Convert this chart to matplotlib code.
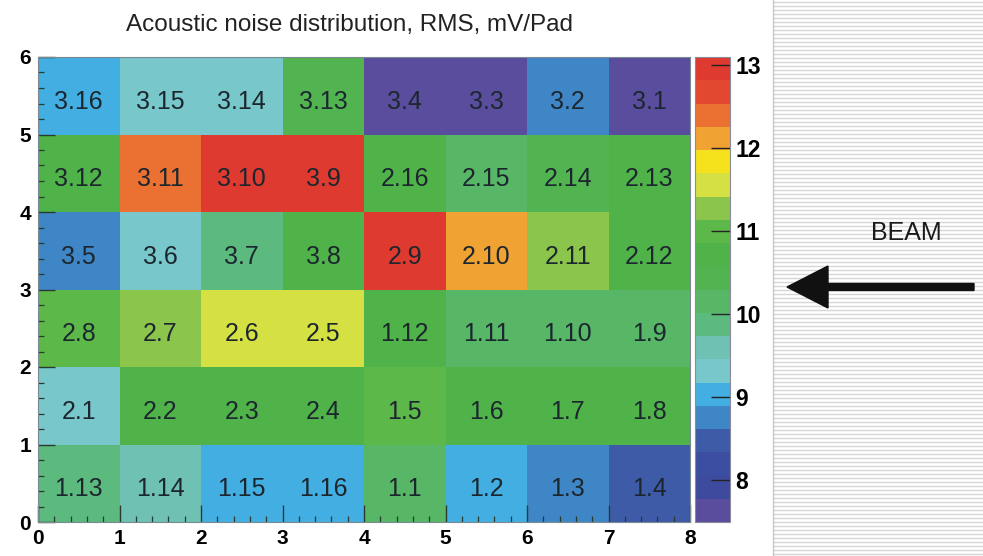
import numpy as np
import matplotlib
matplotlib.use("Agg")
import matplotlib.pyplot as plt
from matplotlib.colors import ListedColormap, BoundaryNorm
from matplotlib.patches import FancyArrow

plt.rcParams['font.family'] = ['Liberation Sans', 'DejaVu Sans']

# RMS noise per pad (mV), rows listed from top (y=5..6) to bottom (y=0..1)
noise_rms = [
    [9.00, 9.30, 9.30, 10.50, 7.60, 7.60, 8.78, 7.60],
    [10.60, 12.40, 12.95, 12.95, 10.60, 10.05, 10.50, 10.60],
    [8.78, 9.35, 9.90, 10.60, 12.95, 12.10, 11.30, 10.60],
    [10.95, 11.30, 11.58, 11.58, 10.60, 10.20, 10.20, 10.20],
    [9.30, 10.60, 10.60, 10.60, 11.00, 10.60, 10.60, 10.60],
    [9.95, 9.60, 9.02, 9.02, 10.10, 9.02, 8.76, 8.45],
]

# pad identifiers, same layout as noise_rms
pad_names = [
    ["3.16", "3.15", "3.14", "3.13", "3.4", "3.3", "3.2", "3.1"],
    ["3.12", "3.11", "3.10", "3.9", "2.16", "2.15", "2.14", "2.13"],
    ["3.5", "3.6", "3.7", "3.8", "2.9", "2.10", "2.11", "2.12"],
    ["2.8", "2.7", "2.6", "2.5", "1.12", "1.11", "1.10", "1.9"],
    ["2.1", "2.2", "2.3", "2.4", "1.5", "1.6", "1.7", "1.8"],
    ["1.13", "1.14", "1.15", "1.16", "1.1", "1.2", "1.3", "1.4"],
]

z_min, z_max, n_levels = 7.5, 13.1, 20
cbar_ticks = [8, 9, 10, 11, 12, 13]

palette = [
    '#5a4d9d', '#3e4a9e', '#3b4ea1', '#3e5ba7', '#3f86c6',
    '#43aee2', '#78c7cb', '#6ec1b3', '#5cba7e', '#58b766',
    '#52b450', '#4fb34a', '#5db84a', '#8cc54b', '#d5e043',
    '#f5e11c', '#f0a232', '#ea7131', '#e2482f', '#df3a2f',
]

W, H = 983, 556
fig = plt.figure(figsize=(W / 100, H / 100), dpi=100)
fig.patch.set_facecolor('white')

# background panel on the right with horizontal ruling, beam arrow
bg = fig.add_axes([0, 0, 1, 1], zorder=0)
bg.set_xlim(0, W)
bg.set_ylim(H, 0)
bg.axis('off')
for yy in np.arange(1.5, H, 4.0):
    bg.plot([773, W], [yy, yy], color='#d6d6d6', lw=1.0, solid_capstyle='butt')
bg.plot([773, 773], [0, H], color='#c8c8c8', lw=1.0)
bg.add_patch(FancyArrow(974, 287, -187, 0, width=7, head_width=42,
                        head_length=41, length_includes_head=True,
                        color='#111111', zorder=3))
bg.text(906, 233, "BEAM", fontsize=18, color='#1a1a1a', ha='center', va='center')

# main map
ax = fig.add_axes([38 / W, 1 - 522 / H, 652 / W, 465 / H], zorder=2)
Z = np.array(noise_rms)[::-1]
names = pad_names[::-1]
levels = np.linspace(z_min, z_max, n_levels + 1)
cmap = ListedColormap(palette)
norm = BoundaryNorm(levels, n_levels)
mesh = ax.pcolormesh(np.arange(Z.shape[1] + 1), np.arange(Z.shape[0] + 1), Z,
                     cmap=cmap, norm=norm)
for j in range(Z.shape[0]):
    for i in range(Z.shape[1]):
        ax.text(i + 0.5, j + 0.42, names[j][i], ha='center', va='center',
                fontsize=18, color='#1c262e')

ax.set_xlim(0, 8)
ax.set_ylim(0, 6)
ax.set_xticks(range(0, 9))
ax.set_yticks(range(0, 7))
ax.set_xticks(np.arange(0, 8.01, 0.2), minor=True)
ax.set_yticks(np.arange(0, 6.01, 0.2), minor=True)
ax.tick_params(which='major', direction='in', length=12, width=1.0,
               color='#2a3a30', labelsize=15, pad=5)
ax.tick_params(which='minor', direction='in', length=4.5, width=0.9,
               color='#2a3a30')
for lab in ax.get_xticklabels() + ax.get_yticklabels():
    lab.set_fontweight('bold')
for s in ax.spines.values():
    s.set_color('#7a8a90')
    s.set_linewidth(0.8)

ax.set_title("Acoustic noise distribution, RMS, mV/Pad", fontsize=17.5,
             color='#222222', pad=19, x=0.478)

# palette axis
cax = fig.add_axes([695 / W, 1 - 522 / H, 35 / W, 465 / H], zorder=2)
cb = fig.colorbar(mesh, cax=cax, ticks=cbar_ticks)
cb.outline.set_edgecolor('#8a8a9a')
cb.outline.set_linewidth(0.8)
cax.tick_params(direction='in', length=14, width=1.0, color='#222222',
                labelsize=16.5, pad=4)
cax.minorticks_off()
for lab in cax.get_yticklabels():
    lab.set_fontweight('bold')

fig.savefig("out.png", dpi=100)
